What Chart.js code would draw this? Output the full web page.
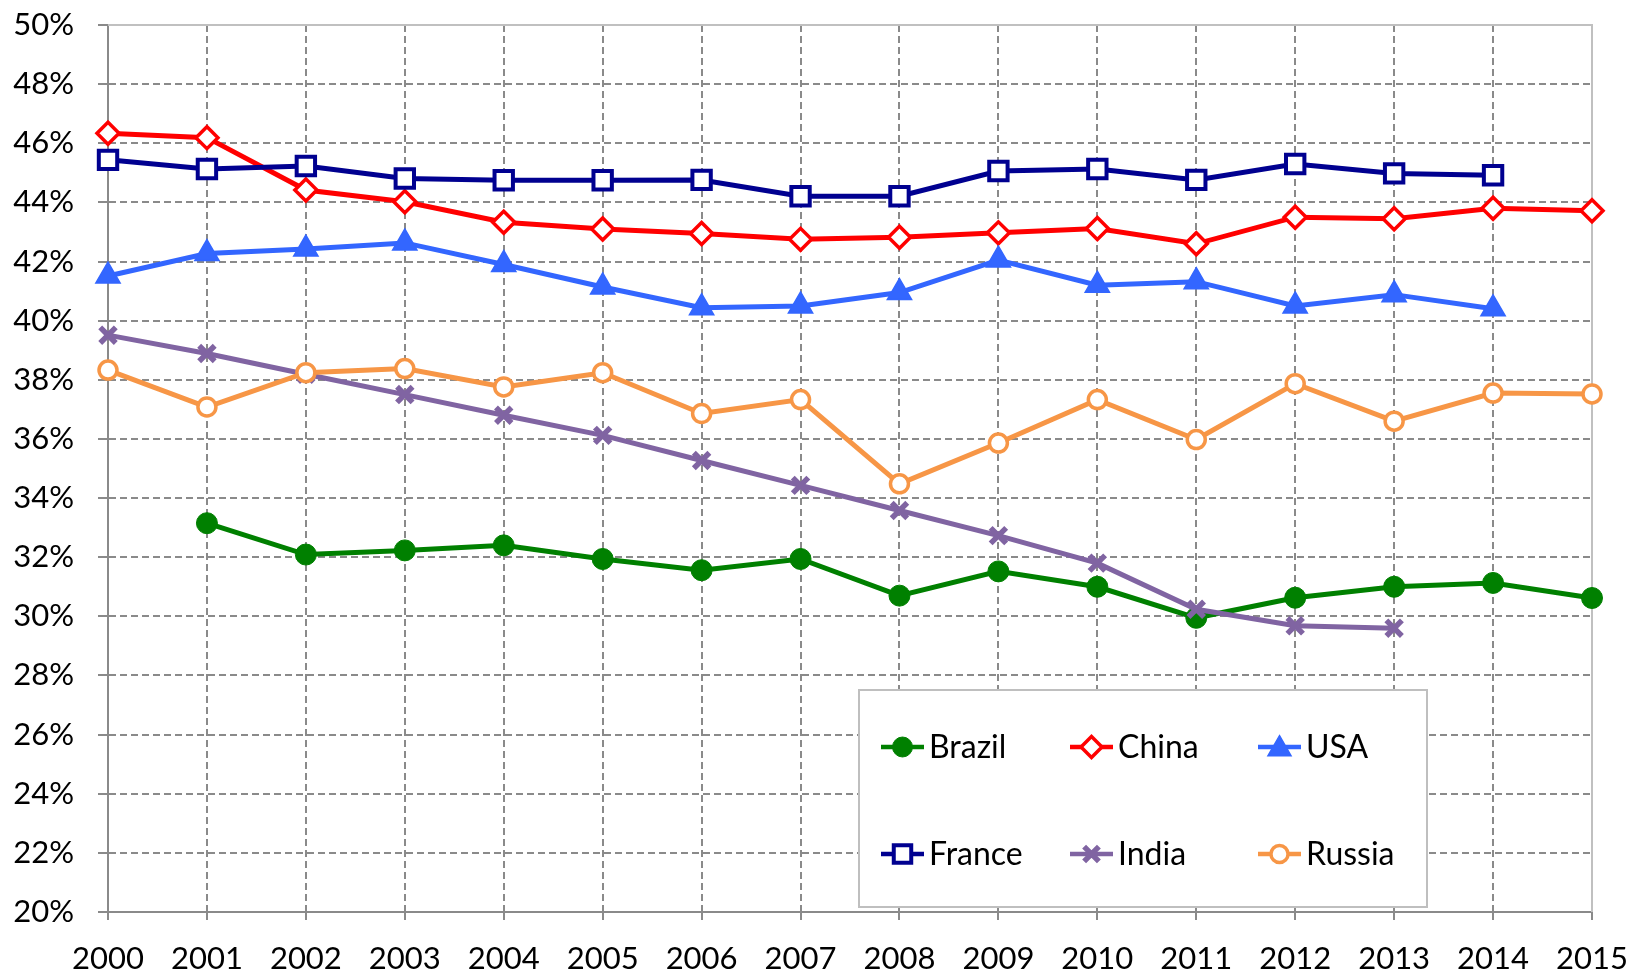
<!DOCTYPE html>
<html>
<head>
<meta charset="utf-8">
<script src="https://cdn.jsdelivr.net/npm/chart.js@4/dist/chart.umd.min.js"></script>
<style>
  html, body { margin: 0; padding: 0; background: #ffffff; }
  #wrap { position: relative; width: 1630px; height: 973px; }
</style>
</head>
<body>
<div id="wrap"><canvas id="c" width="1630" height="973"></canvas></div>
<script>
const years = ['2000','2001','2002','2003','2004','2005','2006','2007','2008','2009','2010','2011','2012','2013','2014','2015'];
const brazil = [null, 33.15, 32.09, 32.23, 32.40, 31.94, 31.56, 31.94, 30.70, 31.52, 31.00, 29.95, 30.63, 31.00, 31.13, 30.62];
const china  = [46.34, 46.19, 44.42, 44.02, 43.33, 43.10, 42.95, 42.75, 42.82, 42.97, 43.12, 42.60, 43.50, 43.45, 43.80, 43.72];
const usa    = [41.51, 42.27, 42.42, 42.63, 41.90, 41.14, 40.44, 40.50, 40.95, 42.05, 41.20, 41.32, 40.50, 40.88, 40.40, null];
const france = [45.44, 45.13, 45.23, 44.81, 44.75, 44.75, 44.76, 44.21, 44.21, 45.06, 45.13, 44.76, 45.30, 44.98, 44.92, null];
const india  = [39.51, 38.89, 38.19, 37.50, 36.80, 36.12, 35.27, 34.43, 33.58, 32.73, 31.80, 30.24, 29.68, 29.60, null, null];
const russia = [38.33, 37.08, 38.24, 38.38, 37.76, 38.24, 36.86, 37.33, 34.48, 35.86, 37.33, 35.98, 37.87, 36.60, 37.55, 37.52];
const seriesNames = ['Brazil', 'China', 'USA', 'France', 'India', 'Russia'];
const yMin = 20, yMax = 50, yStep = 2;

const FONT = 'Lato';
const GRID = '#8a8a8a';

function ds(label, data, color, style, radius, fill, bw, order) {
  return {
    label, data, order,
    borderColor: color,
    backgroundColor: fill,
    borderWidth: 5,
    pointStyle: style,
    pointRadius: radius,
    pointHoverRadius: radius,
    pointBorderColor: color,
    pointBackgroundColor: fill,
    pointBorderWidth: bw,
    spanGaps: false,
    tension: 0,
    clip: false
  };
}

const datasets = [
  ds(seriesNames[0], brazil, '#008000', 'circle', 10.5, '#008000', 1, 6),
  ds(seriesNames[1], china,  '#ff0000', 'rectRot', 11, '#ffffff', 3.5, 5),
  ds(seriesNames[2], usa,    '#3366ff', 'triangle', 14, '#3366ff', 1.5, 4),
  ds(seriesNames[3], france, '#000090', 'rect', 13, '#ffffff', 4, 3),
  ds(seriesNames[4], india,  '#8064a2', 'crossRot', 11, '#8064a2', 5.5, 2),
  ds(seriesNames[5], russia, '#f79646', 'circle', 9, '#ffffff', 3.5, 1)
];

const frame = {
  id: 'frame',
  beforeDatasetsDraw(chart) {
    const a = chart.chartArea, ctx = chart.ctx;
    ctx.save();
    ctx.strokeStyle = '#c0c0c0';
    ctx.lineWidth = 2;
    ctx.setLineDash([]);
    ctx.beginPath();
    ctx.moveTo(a.left, a.top);
    ctx.lineTo(a.right, a.top);
    ctx.lineTo(a.right, a.bottom);
    ctx.stroke();
    ctx.restore();
  }
};

const legendBox = {
  id: 'legendBox',
  afterDatasetsDraw(chart) {
    const ctx = chart.ctx;
    const bx = 859, by = 690, bw = 568, bh = 217;
    ctx.save();
    ctx.fillStyle = '#ffffff';
    ctx.fillRect(bx, by, bw, bh);
    ctx.strokeStyle = '#bfbfbf';
    ctx.lineWidth = 2;
    ctx.strokeRect(bx, by, bw, bh);
    const cols = [881, 1070, 1258];
    const rows = [747, 854];
    chart.data.datasets.forEach((d, i) => {
      const x0 = cols[i % 3];
      const y0 = rows[Math.floor(i / 3)];
      ctx.strokeStyle = d.borderColor;
      ctx.lineWidth = 4.5;
      ctx.setLineDash([]);
      ctx.beginPath();
      ctx.moveTo(x0, y0);
      ctx.lineTo(x0 + 43, y0);
      ctx.stroke();
      ctx.fillStyle = d.pointBackgroundColor;
      ctx.strokeStyle = d.pointBorderColor;
      ctx.lineWidth = d.pointBorderWidth;
      Chart.helpers.drawPoint(ctx, {
        pointStyle: d.pointStyle,
        rotation: 0,
        radius: d.pointRadius * 0.95,
        borderWidth: d.pointBorderWidth
      }, x0 + 21.5, y0 + (d.pointStyle === 'triangle' ? 2 : 0));
      ctx.fillStyle = '#000000';
      ctx.font = '32px ' + FONT;
      ctx.textBaseline = 'middle';
      ctx.textAlign = 'left';
      ctx.fillText(d.label, x0 + 48, y0 + 1);
    });
    ctx.restore();
  }
};

function noScalePadding(scale) {
  scale.paddingTop = 0;
  scale.paddingBottom = 0;
  scale.paddingLeft = 0;
  scale.paddingRight = 0;
}

const chart = new Chart(document.getElementById('c'), {
  type: 'line',
  data: { labels: years, datasets },
  plugins: [frame, legendBox],
  options: {
    responsive: false,
    animation: false,
    devicePixelRatio: 1,
    layout: { autoPadding: false, padding: { top: 25, right: 38, left: 0, bottom: 0 } },
    plugins: {
      legend: { display: false },
      tooltip: { enabled: false },
      title: { display: false }
    },
    scales: {
      x: {
        type: 'category',
        offset: false,
        afterFit(scale) { scale.height = 61; noScalePadding(scale); },
        grid: {
          display: true,
          offset: false,
          color: GRID,
          lineWidth: 2,
          drawTicks: true,
          tickLength: 8,
          tickColor: GRID,
          tickWidth: 2,
          tickBorderDash: []
        },
        border: { display: true, color: GRID, width: 2, dash: [7, 4] },
        ticks: {
          color: '#000000',
          font: { family: FONT, size: 31 },
          padding: 20,
          maxRotation: 0,
          autoSkip: false
        }
      },
      y: {
        min: yMin,
        max: yMax,
        afterFit(scale) { scale.width = 108; noScalePadding(scale); },
        grid: {
          color: GRID,
          lineWidth: 2,
          drawTicks: true,
          tickLength: 10,
          tickColor: GRID,
          tickWidth: 2,
          tickBorderDash: []
        },
        border: { display: true, color: GRID, width: 2, dash: [7, 4] },
        ticks: {
          stepSize: yStep,
          color: '#000000',
          font: { family: FONT, size: 31 },
          padding: 24,
          callback: (v) => v + '%'
        }
      }
    },
    elements: { line: { borderJoinStyle: 'miter' } }
  }
});
</script>
</body>
</html>
